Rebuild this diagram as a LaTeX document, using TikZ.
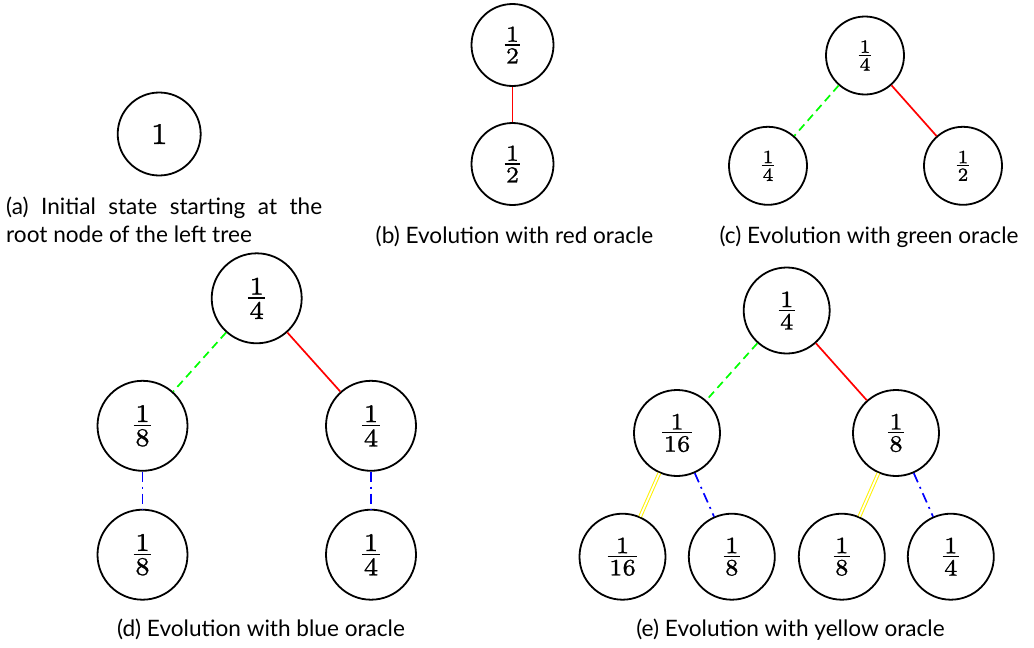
\documentclass[tikz,border=0pt]{standalone}
\usepackage{fontspec}
\newfontfamily\capfont{Lato}
\newfontfamily\digfont[FakeBold=1]{lmroman7-regular.otf}
\newcommand\fr[2]{%
  \setbox0\hbox{#1}\setbox2\hbox{#2}%
  \dimen0=\ifdim\wd0>\wd2 \wd0\else\wd2\fi
  \advance\dimen0 by 0.12em
  \vbox{\hbox to\dimen0{\hss\box0\hss}\kern0.11em\hrule height0.06em\kern0.11em\hbox to\dimen0{\hss\box2\hss}}}
\tikzset{
 st/.style={circle, draw, line width=1.8pt, inner sep=0pt},
 sa/.style={st, minimum size=83pt, font=\digfont\fontsize{30}{30}\selectfont},
 sb/.style={st, minimum size=82pt, font=\digfont\fontsize{23}{23}\selectfont},
 sc/.style={st, minimum size=78pt, font=\digfont\fontsize{18.7}{18.7}\selectfont},
 sd/.style={st, minimum size=90pt, font=\digfont\fontsize{25.5}{25.5}\selectfont},
 se/.style={st, minimum size=86pt, font=\digfont\fontsize{23.5}{23.5}\selectfont},
 redE/.style={draw=red, line width=1.7pt},
 greenE/.style={draw=green, line width=1.7pt, dash pattern=on 8pt off 5pt},
 blueE/.style={draw=blue, line width=1.7pt, dash pattern=on 10pt off 5pt on 2pt off 5pt},
 yellowE/.style={draw=yellow, line width=1pt, double=white, double distance=1.8pt},
 capt/.style={font=\capfont\fontsize{22.6}{27}\selectfont, anchor=base, inner sep=0pt}
}
\begin{document}
\begin{tikzpicture}[x=1pt,y=-1pt]
\useasboundingbox[fill=white] (0,0) rectangle (1034,648);
% (a)
\node[sa] (a1) at (159.2,134) {1};
\node[capt, anchor=base west] (capa1) at (6,214) {\makebox[316pt][s]{(a) Initial state starting at the}};
\node[capt, anchor=base west] (capa2) at (6,242) {root node of the left tree};
% (b)
\node[sb] (b1) at (512.5,45) {\fr{1}{2}};
\node[sb] (b2) at (512.5,164) {\fr{1}{2}};
\draw[redE] (b1) -- (b2);
\node[capt] (capb) at (514.5,243) {(b) Evolution with red oracle};
% (c)
\node[sc] (c1) at (865,55.5) {\fr{1}{4}};
\node[sc] (c2) at (768,165.8) {\fr{1}{4}};
\node[sc] (c3) at (963,165.8) {\fr{1}{2}};
\draw[greenE] (c1) -- (c2);
\draw[redE] (c1) -- (c3);
\node[capt] (capc) at (869,243) {(c) Evolution with green oracle};
% (d)
\node[sd] (d1) at (256.7,298.3) {\fr{1}{4}};
\node[sd] (d2) at (142.5,425.8) {\fr{1}{8}};
\node[sd] (d3) at (371,425.8) {\fr{1}{4}};
\node[sd] (d4) at (142.5,554.7) {\fr{1}{8}};
\node[sd] (d5) at (371,554.7) {\fr{1}{4}};
\draw[greenE] (d1) -- (d2);
\draw[redE] (d1) -- (d3);
\draw[blueE] (d2) -- (d4);
\draw[blueE] (d3) -- (d5);
\node[capt] (capd) at (261,636.7) {(d) Evolution with blue oracle};
% (e)
\node[se] (e1) at (786.7,310.5) {\fr{1}{4}};
\node[se] (e2) at (677,433) {\fr{1}{16}};
\node[se] (e3) at (896,433) {\fr{1}{8}};
\node[se] (e4) at (622.5,556.7) {\fr{1}{16}};
\node[se] (e5) at (731.8,556.7) {\fr{1}{8}};
\node[se] (e6) at (841.8,556.7) {\fr{1}{8}};
\node[se] (e7) at (950.8,556.7) {\fr{1}{4}};
\draw[greenE] (e1) -- (e2);
\draw[redE] (e1) -- (e3);
\draw[yellowE] (e2) -- (e4);
\draw[blueE] (e2) -- (e5);
\draw[yellowE] (e3) -- (e6);
\draw[blueE] (e3) -- (e7);
\node[capt] (cape) at (790.5,636.7) {(e) Evolution with yellow oracle};
\end{tikzpicture}
\end{document}
